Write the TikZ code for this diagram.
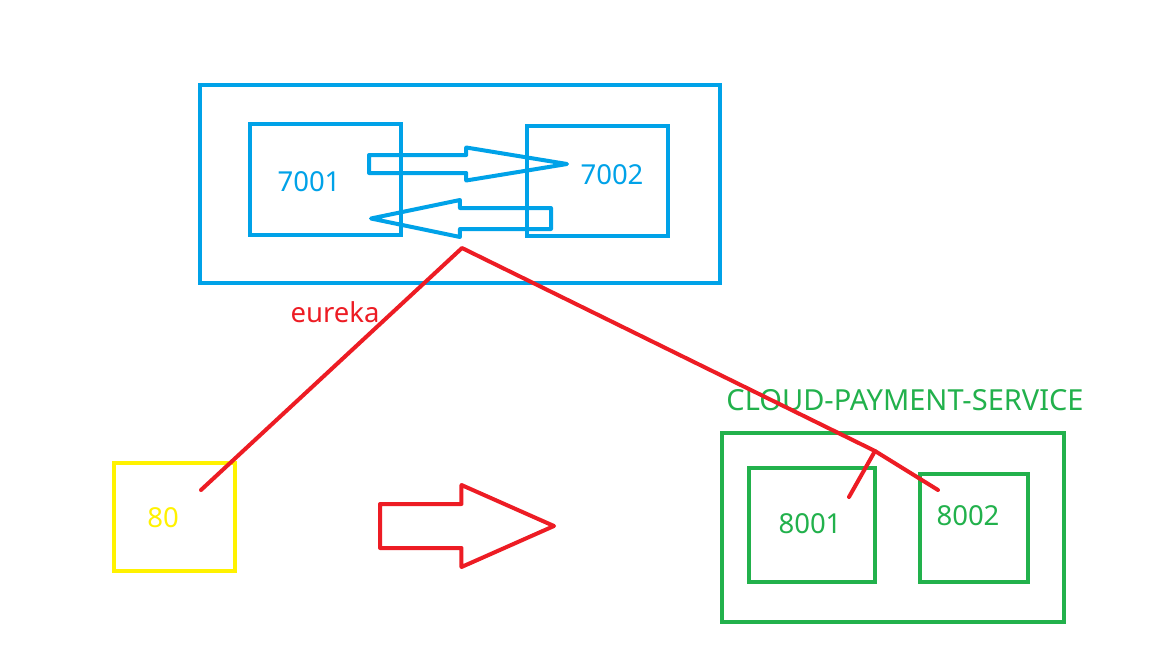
\documentclass[tikz,border=0pt]{standalone}
\usepackage{fontspec}
\setmainfont{Noto Sans}
\usetikzlibrary{shapes.arrows}
\definecolor{cblue}{HTML}{00A2E8}
\definecolor{cred}{HTML}{ED1C24}
\definecolor{cyel}{HTML}{FFF200}
\definecolor{cgreen}{HTML}{22B14C}

\begin{document}
\begin{tikzpicture}[
  x=1pt, y=-1pt,
  font=\fontsize{27.5}{32}\selectfont,
  box/.style={draw, line width=4pt, inner sep=0pt, anchor=north west},
  blk/.style={single arrow, draw, line width=4pt, line join=round, inner xsep=0pt,
    single arrow head indent=0pt, anchor=tail},
  wire/.style={draw=cred, line width=4pt, line cap=round, line join=round},
  ]
\useasboundingbox[fill=white] (0,0) rectangle (1152,648);
% eureka cluster
\node[box, draw=cblue, minimum width=520, minimum height=198] (eureka) at (198,83) {};
\node[box, draw=cblue, minimum width=151, minimum height=111] (e7001) at (248,122) {};
\node[box, draw=cblue, minimum width=141, minimum height=110] (e7002) at (525,124) {};
\node[text=cblue] (t7001) at (309,182) {7001};
\node[text=cblue] (t7002) at (612,175) {7002};
\node[blk, draw=cblue, minimum height=198, inner ysep=7,
  single arrow head extend=7.5, single arrow tip angle=18.6] (sync1) at (367,164) {};
\node[blk, draw=cblue, minimum height=180, inner ysep=8.5, shape border rotate=180,
  single arrow head extend=8, single arrow tip angle=23.5] (sync2) at (553,218.5) {};
\node[text=cred] (leureka) at (335,312) {eureka};
% consumer
\node[box, draw=cyel, minimum width=121, minimum height=108] (c80) at (112,461) {};
\node[text=cyel] (t80) at (163,518) {80};
\node[blk, draw=cred, minimum height=174, inner ysep=20,
  single arrow head extend=19, single arrow tip angle=47.8] (call) at (378,526) {};
% provider cluster
\node[text=cgreen, font=\fontsize{29}{34}\selectfont] (lpay) at (905,400) {CLOUD-PAYMENT-SERVICE};
\node[box, draw=cgreen, minimum width=342, minimum height=189] (pay) at (720,431) {};
\node[box, draw=cgreen, minimum width=126, minimum height=114] (p8001) at (747,466) {};
\node[box, draw=cgreen, minimum width=108, minimum height=108] (p8002) at (918,472) {};
\node[text=cgreen] (t8001) at (810,524) {8001};
\node[text=cgreen] (t8002) at (968,516) {8002};
% registry links
\coordinate (r80) at (201,490);
\coordinate (top) at (462,248);
\coordinate (fork) at (875,451);
\coordinate (r8001) at (849,497);
\coordinate (r8002) at (938,490);
\draw[wire] (r80) -- (top) -- (fork) -- (r8002);
\draw[wire] (fork) -- (r8001);
\end{tikzpicture}
\end{document}
